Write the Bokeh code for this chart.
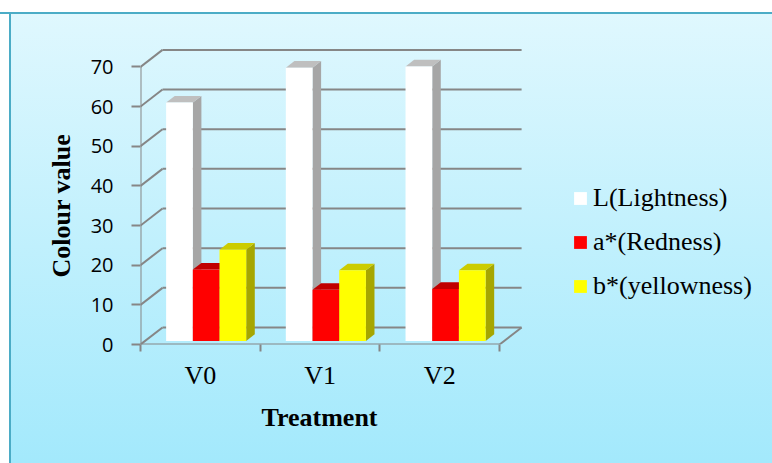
from bokeh.plotting import figure
from bokeh.models import FixedTicker, Legend, LegendItem, Range1d, Title
from bokeh.embed import file_html
from bokeh.resources import INLINE

# ---- data ----
categories = ["V0", "V1", "V2"]
series = ["L(Lightness)", "a*(Redness)", "b*(yellowness)"]
lightness = [60.1, 68.9, 69.2]
redness = [18.0, 12.9, 13.1]
yellowness = [23.0, 17.8, 17.8]
y_ticks = [0, 10, 20, 30, 40, 50, 60, 70]

# ---- styles ----
front_colors = ["#FFFFFF", "#FF0000", "#FFFF00"]
top_colors = ["#BFBFBF", "#C00000", "#CCCC00"]
side_colors = ["#A6A6A6", "#A00000", "#A6A600"]
grid_color = "#868686"

W, H = 772, 463
ML, MB = 140, 119
PX_X = 119.7   # pixels per category
PX_Y = 3.966   # pixels per value unit
frame_w = W - ML
frame_h = H - MB

# depth of the 3D box (back plane offset) and of the bars
DX = 22 / PX_X
DY = 17 / PX_Y
F0 = 0.21      # depth fraction where bar front faces sit
FB = 0.39      # bar depth fraction
BW = 0.223     # bar width (category units)
GC = 0.51      # group centre within category

p = figure(width=W, height=H,
           x_range=Range1d(0, frame_w / PX_X), y_range=Range1d(0, frame_h / PX_Y),
           output_backend="svg", toolbar_location=None,
           min_border_left=ML, min_border_bottom=MB,
           min_border_top=0, min_border_right=0)
p.border_fill_color = None
p.background_fill_color = None
p.outline_line_color = None
p.grid.visible = False
p.styles = {"background": (
    "linear-gradient(to bottom, #ffffff 0px, #ffffff 12px, #4bacc6 12px, #4bacc6 14px, rgba(0,0,0,0) 14px), "
    "linear-gradient(to right, #ffffff 0px, #ffffff 9px, #4bacc6 9px, #4bacc6 11px, rgba(0,0,0,0) 11px), "
    "linear-gradient(to bottom, #e1f8fe 0%, #a3e9fc 100%)")}

n = len(categories)
ymax = y_ticks[-1]

# back wall gridlines
p.segment(x0=[DX] * len(y_ticks), y0=[t + DY for t in y_ticks],
          x1=[n + DX] * len(y_ticks), y1=[t + DY for t in y_ticks],
          line_color=grid_color, line_width=2)
# left wall slants
p.segment(x0=[0] * len(y_ticks), y0=y_ticks,
          x1=[DX] * len(y_ticks), y1=[t + DY for t in y_ticks],
          line_color=grid_color, line_width=2)
# front axis, floor front edge, floor right edge
p.segment(x0=[0, 0, n], y0=[0, 0, 0], x1=[0, n, n + DX], y1=[ymax, 0, DY],
          line_color=grid_color, line_width=2)

# bars
values = [lightness, redness, yellowness]
bdx, bdy = FB * DX, FB * DY
front_renderers = []
for k, vals in enumerate(values):
    lefts = [i + GC - 1.5 * BW + k * BW + F0 * DX for i in range(n)]
    rights = [l + BW for l in lefts]
    bottoms = [F0 * DY] * n
    tops = [b + v for b, v in zip(bottoms, vals)]
    side_xs = [[r, r, r + bdx, r + bdx] for r in rights]
    side_ys = [[b, t, t + bdy, b + bdy] for b, t in zip(bottoms, tops)]
    p.patches(side_xs, side_ys, fill_color=side_colors[k], line_color=None)
    top_xs = [[l, l + bdx, r + bdx, r] for l, r in zip(lefts, rights)]
    top_ys = [[t, t + bdy, t + bdy, t] for t in tops]
    p.patches(top_xs, top_ys, fill_color=top_colors[k], line_color=None)
    r = p.quad(left=lefts, right=rights, bottom=bottoms, top=tops,
               fill_color=front_colors[k], line_color=None)
    front_renderers.append(r)

# y axis
ya = p.yaxis[0]
ya.ticker = FixedTicker(ticks=y_ticks, minor_ticks=[])
ya.axis_line_color = None
ya.major_tick_line_color = grid_color
ya.major_tick_line_width = 2
ya.major_tick_out = 9
ya.major_tick_in = 0
ya.minor_tick_line_color = None
ya.major_label_text_font = "Open Sans"
ya.major_label_text_font_size = "20px"
ya.major_label_text_color = "#000000"
ya.major_label_standoff = 18

# x axis
xa = p.xaxis[0]
centers = [i + 0.5 for i in range(n)]
xa.ticker = FixedTicker(ticks=centers, minor_ticks=list(range(n + 1)))
xa.major_label_overrides = {c: lab for c, lab in zip(centers, categories)}
xa.axis_line_color = None
xa.major_tick_line_color = None
xa.major_tick_out = 0
xa.major_tick_in = 0
xa.minor_tick_line_color = grid_color
xa.minor_tick_line_width = 2
xa.minor_tick_out = 7
xa.minor_tick_in = 0
xa.major_label_text_font = "Liberation Serif"
xa.major_label_text_font_size = "26px"
xa.major_label_text_color = "#000000"
xa.major_label_standoff = 9

# axis titles (as side titles so they can be offset)
p.add_layout(Title(text="Treatment", align="left", offset=121, standoff=16,
                   text_font="Liberation Serif", text_font_style="bold",
                   text_font_size="26px", text_color="#000000"), "below")
p.add_layout(Title(text="Colour value", align="left", offset=67, standoff=24,
                   text_font="Liberation Serif", text_font_style="bold",
                   text_font_size="26px", text_color="#000000"), "left")

# legend
legend = Legend(items=[LegendItem(label=s, renderers=[r]) for s, r in zip(series, front_renderers)],
                location=(432, 43), orientation="vertical",
                label_text_font="Liberation Serif", label_text_font_size="26px",
                label_text_color="#000000",
                glyph_width=16, glyph_height=16, label_standoff=5, label_height=30,
                spacing=14, padding=0, margin=0,
                border_line_color=None, background_fill_alpha=0)
p.add_layout(legend)

open("out.html", "w").write(file_html(p, INLINE))
